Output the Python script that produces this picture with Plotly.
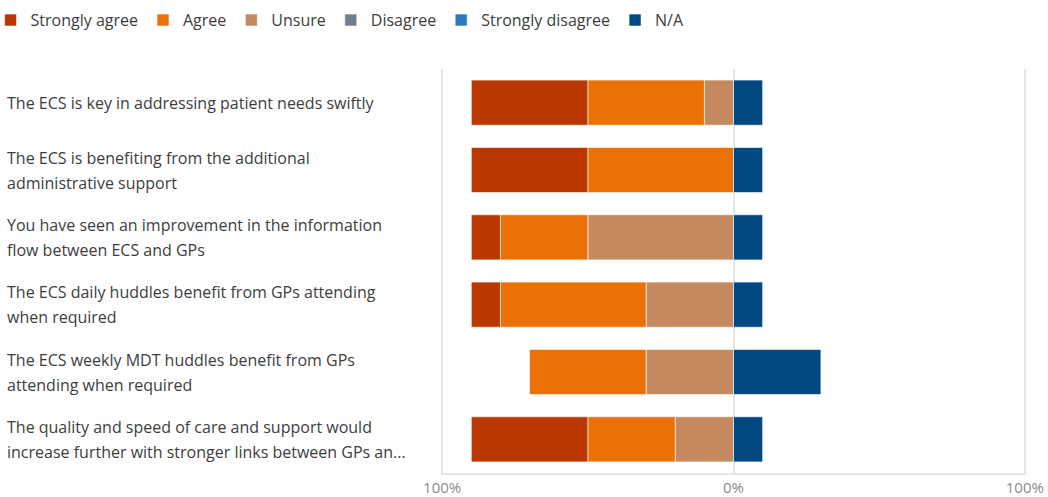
import plotly.graph_objects as go

categories = [
    "The ECS is key in addressing patient needs swiftly",
    "The ECS is benefiting from the additional<br>administrative support",
    "You have seen an improvement in the information<br>flow between ECS and GPs",
    "The ECS daily huddles benefit from GPs attending<br>when required",
    "The ECS weekly MDT huddles benefit from GPs<br>attending when required",
    "The quality and speed of care and support would<br>increase further with stronger links between GPs an...",
]

strongly_agree = [40, 40, 10, 10, 0, 40]
agree = [40, 50, 30, 50, 40, 30]
unsure = [10, 0, 50, 30, 30, 20]
disagree = [0, 0, 0, 0, 0, 0]
strongly_disagree = [0, 0, 0, 0, 0, 0]
na = [10, 10, 10, 10, 30, 10]

tick_vals = [-100, 0, 100]
tick_text = ["100%", "0%", "100%"]

colors = {
    "Strongly agree": "#BA3800",
    "Agree": "#EB7107",
    "Unsure": "#C4895E",
    "Disagree": "#6F7F8F",
    "Strongly disagree": "#2B7BB8",
    "N/A": "#004983",
}

# Trace order controls stacking outward from zero; legendrank controls legend order
series = [
    ("Unsure", [-v for v in unsure], 3),
    ("Agree", [-v for v in agree], 2),
    ("Strongly agree", [-v for v in strongly_agree], 1),
    ("Disagree", disagree, 4),
    ("Strongly disagree", strongly_disagree, 5),
    ("N/A", na, 6),
]

fig = go.Figure()
for name, vals, rank in series:
    fig.add_trace(go.Bar(
        name=name, y=categories, x=vals, orientation="h",
        marker=dict(color=colors[name], line=dict(color="rgba(255,255,255,0.6)", width=1)),
        legendrank=rank,
    ))

font_family = "Open Sans, Noto Sans, sans-serif"

annotations = []
for cat in categories:
    lines = cat.split("<br>")
    n = len(lines)
    for i, line in enumerate(lines):
        shift = (-(i - (n - 1) / 2)) * 25
        annotations.append(dict(
            x=-0.745, xref="paper", y=cat, yref="y", yshift=shift,
            text=line, showarrow=False, xanchor="left", yanchor="middle", align="left",
            font=dict(family=font_family, size=16, color="#3d3d3d"),
        ))

fig.update_layout(
    barmode="relative",
    bargap=0.33,
    width=1048, height=497,
    margin=dict(l=441, r=22, t=69, b=24, autoexpand=False),
    paper_bgcolor="white", plot_bgcolor="white",
    font=dict(family=font_family, color="#3d3d3d"),
    showlegend=True,
    legend=dict(
        orientation="h", xref="paper", yref="paper",
        x=-0.770, y=1.163, xanchor="left", yanchor="top",
        font=dict(family=font_family, size=16, color="#3d3d3d"),
        traceorder="normal",
    ),
    xaxis=dict(
        range=[-100.4, 100.4], tickvals=tick_vals, ticktext=tick_text,
        showgrid=True, gridcolor="#e6e6e6", gridwidth=2,
        zeroline=True, zerolinecolor="#e6e6e6", zerolinewidth=2,
        showline=True, linecolor="#e6e6e6", linewidth=2,
        ticks="",
        tickfont=dict(family=font_family, size=15, color="#8a8a8a"),
        fixedrange=True, automargin=False,
    ),
    yaxis=dict(
        autorange="reversed", showticklabels=False, showgrid=False,
        zeroline=False, showline=False, ticks="", automargin=False,
    ),
    annotations=annotations,
)

fig.write_html(
    "out.html",
    config={"displayModeBar": False},
    post_script="document.body.style.margin='0';document.body.style.overflow='hidden';",
)
